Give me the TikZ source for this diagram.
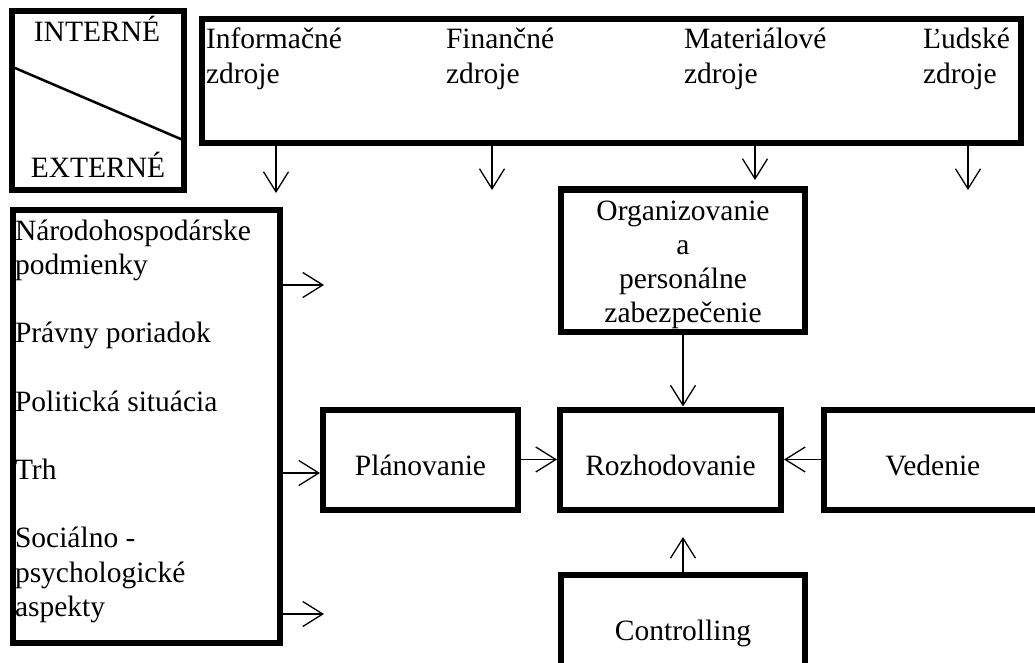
\documentclass[tikz,border=0pt]{standalone}
\usepackage{fontspec}
\setmainfont{Liberation Serif}
\usetikzlibrary{arrows.meta}

% stacked lines with a fixed baseline distance; the box baseline is the first line
\newcommand\stackleft[2]{\vtop{\baselineskip=#1\lineskiplimit=-50pt\halign{##\hfil\cr#2\crcr}}}
\newcommand\stackmid[2]{\vtop{\baselineskip=#1\lineskiplimit=-50pt\halign{\hfil##\hfil\cr#2\crcr}}}

\tikzset{
  frame/.style={draw=black, line width=6pt, inner sep=0pt, fill=white},
  labelled/.style={frame, text height=31pt, text depth=0pt},
  txt/.style={inner sep=0pt, outer sep=0pt},
  arr/.style={-{Straight Barb[length=20pt,width=25pt]}, line width=1.3pt},
}

\begin{document}
\begin{tikzpicture}[x=1pt, y=-1pt, font=\fontsize{29.5pt}{34pt}\selectfont]
\useasboundingbox (0,0) rectangle (1035,663);
\clip (0,0) rectangle (1035,663);

% legend: internal / external
\node[frame, minimum width=172pt, minimum height=179pt] (ie) at (98,100.5) {};
\draw[line width=2.5pt] (15,68) -- (183,140);
\node[txt, anchor=base] (int) at (97,41.7) {INTERNÉ};
\node[txt, anchor=base] (ext) at (98,178) {EXTERNÉ};

% internal resources
\node[frame, minimum width=819pt, minimum height=123.5pt] (res) at (611.5,81.25) {};
\node[txt, anchor=base west] (info) at (206,49) {\stackleft{35pt}{Informačné\cr zdroje}};
\node[txt, anchor=base west] (fin)  at (446,49) {\stackleft{35pt}{Finančné\cr zdroje}};
\node[txt, anchor=base west] (mat)  at (684,49) {\stackleft{35pt}{Materiálové\cr zdroje}};
\node[txt, anchor=base west] (hum)  at (923,49) {\stackleft{35pt}{Ľudské\cr zdroje}};

% external environment
\node[frame, minimum width=267pt, minimum height=433pt] (env) at (146,426) {};
\node[txt, anchor=base west] (envtext) at (15,240) {\stackleft{34.2pt}{Národohospodárske\cr podmienky\cr\cr Právny poriadok\cr\cr Politická situácia\cr\cr Trh\cr\cr Sociálno -\cr psychologické\cr aspekty}};

% management functions
\node[frame, minimum width=244pt, minimum height=142pt] (org) at (683,260.5) {};
\node[txt, anchor=base] (orgtext) at (683,220) {\stackmid{34pt}{Organizovanie\cr a\cr personálne\cr zabezpečenie}};
\node[labelled, minimum width=195pt, minimum height=100pt] (plan) at (420.5,459.5) {Plánovanie};
\node[labelled, minimum width=221pt, minimum height=100pt] (dec) at (670.5,459.5) {Rozhodovanie};
\node[labelled, minimum width=218.5pt, minimum height=100pt] (lead) at (932.75,459.5) {Vedenie};
\node[labelled, minimum width=244pt, minimum height=100pt] (ctrl) at (683,624.5) {Controlling};

% free arrow ends
\coordinate (r1) at (276,193);
\coordinate (r2) at (492,190);
\coordinate (r3) at (755,180);
\coordinate (r4) at (968,190);
\coordinate (e1) at (324,285);
\coordinate (e2) at (0,473);
\coordinate (e3) at (324,614);
\coordinate (c1) at (683,537);

% resource flows
\draw[arr] (res.south -| r1) -- (r1);
\draw[arr] (res.south -| r2) -- (r2);
\draw[arr] (res.south -| r3) -- (r3);
\draw[arr] (res.south -| r4) -- (r4);

% environment influences
\draw[arr] (env.east |- e1) -- (e1);
\draw[arr] (env.east |- e2) -- (plan.west |- e2);
\draw[arr] (env.east |- e3) -- (e3);

% links into decision making
\draw[arr] (org.south) -- (org.south |- dec.north);
\draw[arr] (plan.east) -- (dec.west);
\draw[arr] (lead.west) -- (dec.east);
\draw[arr] (ctrl.north) -- (c1);
\end{tikzpicture}
\end{document}
